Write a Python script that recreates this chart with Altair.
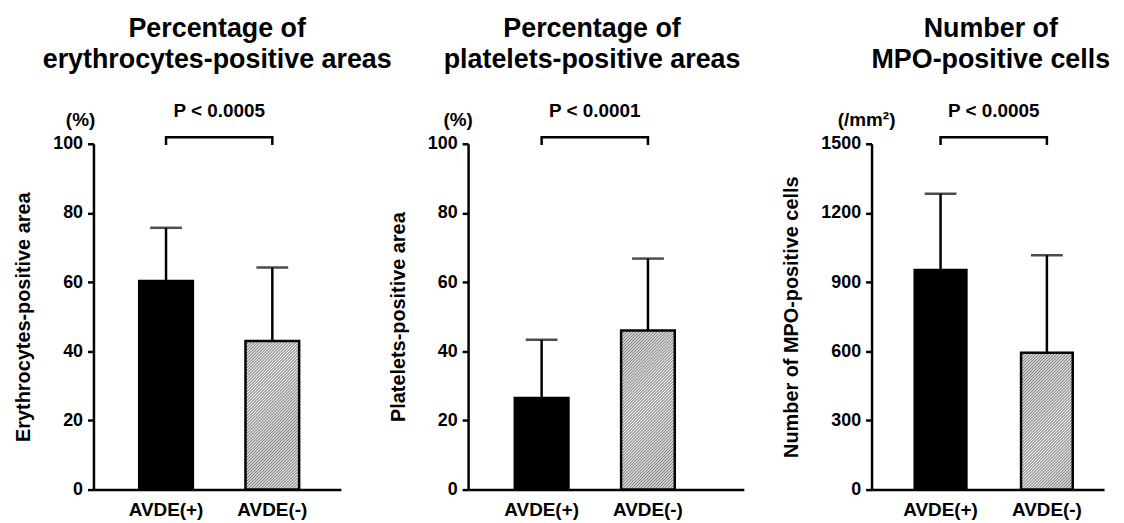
import altair as alt
import pandas as pd
import math

# ---------------- data ----------------
groups = ["AVDE(+)", "AVDE(-)"]
panel_titles = [
    ["Percentage of", "erythrocytes-positive areas"],
    ["Percentage of", "platelets-positive areas"],
    ["Number of", "MPO-positive cells"],
]
y_titles = ["Erythrocytes-positive area", "Platelets-positive area", "Number of MPO-positive cells"]
units = ["(%)", "(%)", "(/mm²)"]
p_texts = ["P < 0.0005", "P < 0.0001", "P < 0.0005"]
y_max = [100, 100, 1500]
y_ticks = [[0, 20, 40, 60, 80, 100], [0, 20, 40, 60, 80, 100], [0, 300, 600, 900, 1200, 1500]]
means = [[60.3, 43.0], [26.5, 46.0], [953, 594]]
sd_tops = [[75.7, 64.2], [43.3, 66.8], [1283, 1016]]

# ---------------- style ----------------
FONT = "Liberation Sans"
H = 348
LW = 2.5
DARK = "#7a7a7a"
LIGHT = "#fafafa"

# per panel: plot width, paddingInner, paddingOuter, align, bar width, unit-label x, title dx
layout = [
    dict(w=249, pi=0.49, po=0.409, al=0.523, bw=54, ux=-13, tdx=0),
    dict(w=277.5, pi=0.49, po=0.542, al=0.403, bw=54, ux=-10, tdx=-14),
    dict(w=234, pi=0.509, po=0.348, al=0.58, bw=52, ux=-5, tdx=3),
]


def hatch(w, h, s=3.0):
    n = int(math.ceil((w + h) / s))
    span = n * s
    k = span / (w * w + h * h)
    stops = []
    for j in range(n):
        stops += [
            alt.GradientStop(offset=j / n, color=LIGHT),
            alt.GradientStop(offset=(j + 0.5) / n, color=DARK),
        ]
    stops.append(alt.GradientStop(offset=1.0, color=LIGHT))
    return alt.LinearGradient(gradient="linear", x1=0, y1=0, x2=k * w, y2=k * h, stops=stops)


def panel(i):
    L = layout[i]
    ym = y_max[i]
    df = pd.DataFrame({"group": groups, "mean": means[i], "top": sd_tops[i]})

    xscale = alt.Scale(domain=groups, paddingInner=L["pi"], paddingOuter=L["po"], align=L["al"])
    xaxis = alt.Axis(
        title=None, labelAngle=0, ticks=False, labelFont=FONT, labelFontSize=19,
        labelFontWeight="bold", labelColor="black", domainColor="black",
        domainWidth=LW, labelPadding=11, grid=False,
    )
    yscale = alt.Scale(domain=[0, ym], nice=False, zero=True)
    yaxis = alt.Axis(
        values=y_ticks[i], format="d", title=y_titles[i], labelFont=FONT, labelFontSize=18,
        labelFontWeight="bold", labelColor="black", tickColor="black", tickWidth=LW,
        tickSize=6, labelPadding=5, domainColor="black", domainWidth=LW,
        titleFont=FONT, titleFontSize=20, titleFontWeight="bold", titleColor="black",
        titlePadding=19, grid=False,
    )

    def X():
        return alt.X("group:N", scale=xscale, axis=xaxis, sort=groups, title=None)

    def Y(field):
        return alt.Y(field, scale=yscale, axis=yaxis, title=y_titles[i])

    err = alt.Chart(df).mark_rule(color="black", strokeWidth=LW).encode(
        x=X(), y=Y("mean:Q"), y2="top:Q"
    )
    cap = alt.Chart(df).mark_tick(color="black", size=32, thickness=LW).encode(
        x=X(), y=Y("top:Q")
    )
    black = alt.Chart(df).transform_filter(alt.datum.group == groups[0]).mark_bar(
        fill="black", stroke="black", strokeWidth=LW, width=L["bw"]
    ).encode(x=X(), y=Y("mean:Q"))

    step = L["w"] / (2 - L["pi"] + 2 * L["po"])
    hh = means[i][1] / ym * H
    hatched = alt.Chart(df).transform_filter(alt.datum.group == groups[1]).mark_bar(
        fill=hatch(L["bw"], hh), stroke="black", strokeWidth=LW, width=L["bw"]
    ).encode(x=X(), y=Y("mean:Q"))

    bdf = pd.DataFrame({
        "group": [groups[0], groups[0], groups[1], groups[1]],
        "mean": [ym, ym * 1.019, ym * 1.019, ym],
        "o": [0, 1, 2, 3],
    })
    bracket = alt.Chart(bdf).mark_line(color="black", strokeWidth=LW, strokeCap="square").encode(
        x=X(), y=Y("mean:Q"), order="o:Q"
    )

    pdf = pd.DataFrame({"group": [groups[0]], "mean": [ym * 1.096], "t": [p_texts[i]]})
    ptext = alt.Chart(pdf).mark_text(
        font=FONT, fontSize=19, fontWeight="bold", color="black", baseline="middle",
        align="center", dx=step / 2,
    ).encode(x=X(), y=Y("mean:Q"), text="t:N")

    udf = pd.DataFrame({"mean": [ym * 1.07], "t": [units[i]]})
    utext = alt.Chart(udf).mark_text(
        font=FONT, fontSize=19, fontWeight="bold", color="black", baseline="middle", align="center"
    ).encode(x=alt.value(L["ux"]), y=Y("mean:Q"), text="t:N")

    return alt.layer(err, cap, black, hatched, bracket, ptext, utext).properties(
        width=L["w"], height=H,
        title=alt.TitleParams(
            text=panel_titles[i], font=FONT, fontSize=27, fontWeight="bold", color="black",
            anchor="middle", frame="group", lineHeight=31.5, offset=28, dx=L["tdx"],
        ),
    )


chart = alt.hconcat(panel(0), panel(1), panel(2), spacing=128, bounds="flush").configure_view(
    stroke=None
).properties(padding=5)

chart.save("out.html", embed_options={"renderer": "svg", "actions": False})
